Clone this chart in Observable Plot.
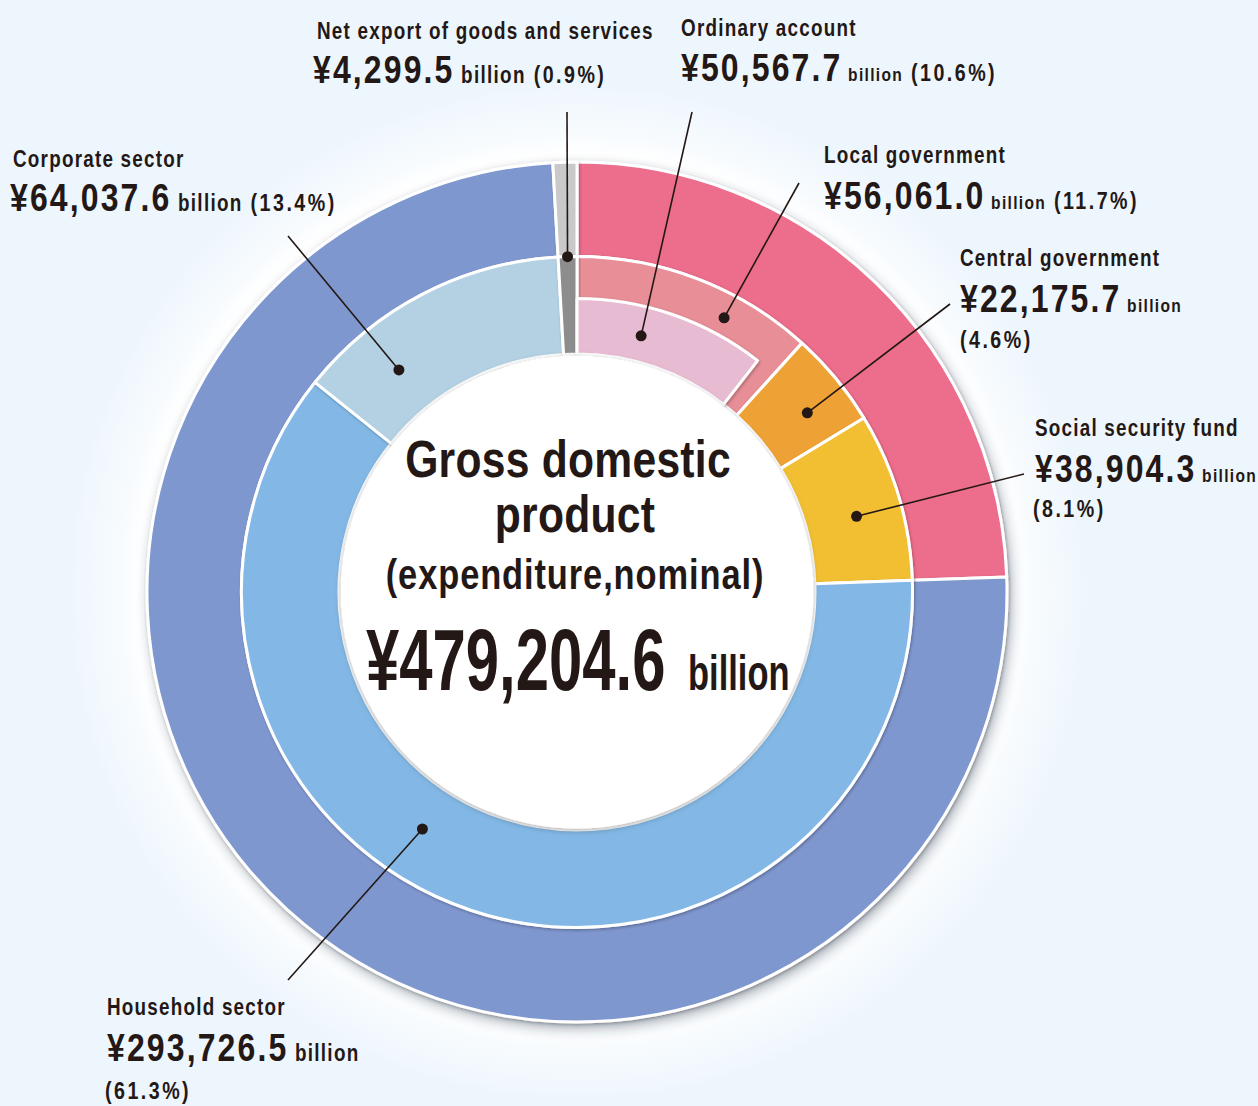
<!DOCTYPE html>
<html><head><meta charset="utf-8">
<script src="https://cdn.jsdelivr.net/npm/d3@7"></script>
<script src="https://cdn.jsdelivr.net/npm/@observablehq/plot@0.6"></script>
<style>
html,body{margin:0;padding:0;width:1258px;height:1106px;overflow:hidden;}
body{background: radial-gradient(circle at 577px 592px, #ffffff 0px, #ffffff 436px, #f7fbfe 460px, #eef6fd 510px, #edf5fd 900px);}
#chart svg{display:block}
text{white-space:pre}
</style></head><body><div id="chart"></div><script>
// ---------------- data ----------------
const gdpTotal = 479204.6;
const centerTitle = ["Gross domestic", "product", "(expenditure,nominal)"];
const sectors = ["Local government", "Central government", "Social security fund", "Household sector", "Corporate sector", "Net export of goods and services"];
const sectorValues = [56061.0, 22175.7, 38904.3, 293726.5, 64037.6, 4299.5];
const sectorGroups = ["General government", "General government", "General government", "Private sector", "Private sector", "Net export"];
const subItem = "Ordinary account";
const subParent = "Local government";
const subValue = 50567.7;

// ---------------- styles / layout ----------------
const INK = "#231815";
const CX = 577, CY = 592;
const RADII = [238, 293.5, 335.5, 430]; // pixel radius of ring levels 0..3
const radius = d3.scaleLinear([0, 1, 2, 3], RADII);
const palette = {
  "General government": "#ec6d8c",
  "Private sector": "#7f97cf",
  "Net export": "#c9c9c9",
  "Local government": "#e78e96",
  "Ordinary account": "#e7bbd2",
  "Central government": "#eea234",
  "Social security fund": "#f2bf32",
  "Household sector": "#83b8e6",
  "Corporate sector": "#b3d1e3",
  "Net export of goods and services": "#8d8d8d"
};
// dot anchors: fraction along segment + ring level; leader start in px
const anchors = [
  {key: "Net export of goods and services", t: 0.5, level: 2, from: [567, 112]},
  {key: "Ordinary account", t: 0.37, level: 0.47, from: [692, 112]},
  {key: "Local government", t: 0.67, level: 1.42, from: [799, 183]},
  {key: "Central government", t: 0.60, level: 0.97, from: [950, 304]},
  {key: "Social security fund", t: 0.55, level: 0.93, from: [1024, 474]},
  {key: "Household sector", t: 0.567, level: 0.81, from: [288, 980]},
  {key: "Corporate sector", t: 0.262, level: 0.84, from: [288, 236]}
];
const SX = 0.82; // horizontal condensing of label font
const runStyles = {
  name: {size: 23, ls: 1.5},
  value: {size: 39, ls: 2.6},
  billionL: {size: 23, ls: 1.6},
  billionS: {size: 19, ls: 1.6},
  pct: {size: 24, ls: 3}
};
const labelLayout = [
  {key: "Net export of goods and services", x: 317, rows: [{y: 39, runs: ["name"]}, {y: 83, x: 313, runs: ["value", "billionL", "pct"]}]},
  {key: "Ordinary account", x: 681, rows: [{y: 36, runs: ["name"]}, {y: 81, runs: ["value", "billionS", "pct"]}]},
  {key: "Corporate sector", x: 13, rows: [{y: 167, runs: ["name"]}, {y: 211, x: 10, runs: ["value", "billionL", "pct"]}]},
  {key: "Local government", x: 824, rows: [{y: 163, runs: ["name"]}, {y: 209, runs: ["value", "billionS", "pct"]}]},
  {key: "Central government", x: 960, rows: [{y: 266, runs: ["name"]}, {y: 312, runs: ["value", "billionS"]}, {y: 348, runs: ["pct"]}]},
  {key: "Social security fund", x: 1035, rows: [{y: 436, runs: ["name"]}, {y: 482, runs: ["value", "billionS"]}, {y: 517, x: 1033, runs: ["pct"]}]},
  {key: "Household sector", x: 107, rows: [{y: 1015, runs: ["name"]}, {y: 1061, runs: ["value", "billionL"]}, {y: 1099, x: 105, runs: ["pct"]}]}
];
const FONT = "'Liberation Sans', Arial, sans-serif";

// ---------------- derived table ----------------
const start = {}, end = {}, valueOf = {};
let acc = 0;
sectors.forEach((s, i) => { start[s] = acc; acc += sectorValues[i]; end[s] = acc; valueOf[s] = sectorValues[i]; });
start[subItem] = start[subParent]; end[subItem] = start[subParent] + subValue; valueOf[subItem] = subValue;
const segments = [];
for (const g of [...new Set(sectorGroups)]) {
  const m = sectors.filter((s, i) => sectorGroups[i] === g);
  segments.push({key: g, start: start[m[0]], end: end[m[m.length - 1]], inner: 2, outer: 3});
}
sectors.forEach(s => segments.push({key: s, start: start[s], end: end[s], inner: 0, outer: 2}));
segments.push({key: subItem, start: start[subItem], end: end[subItem], inner: 0, outer: 1});

const fmtVal = v => "¥" + d3.format(",.1f")(v);
const fmtPct = v => `(${d3.format(".1f")(v / gdpTotal * 100)}%)`;

// ---------------- renderers ----------------
function arcRender(index, scales, values) {
  const g = d3.create("svg:g");
  const defs = g.append("defs");
  defs.append("filter").attr("id", "donutShadow").attr("x", "-20%").attr("y", "-20%").attr("width", "140%").attr("height", "140%")
    .append("feDropShadow").attr("dx", 3).attr("dy", 5).attr("stdDeviation", 6).attr("flood-color", "#2a3550").attr("flood-opacity", 0.4);
  defs.append("filter").attr("id", "segShadow").attr("x", "-20%").attr("y", "-20%").attr("width", "140%").attr("height", "140%")
    .append("feDropShadow").attr("dx", 1).attr("dy", 1.5).attr("stdDeviation", 1.8).attr("flood-color", "#000").attr("flood-opacity", 0.28);
  defs.append("filter").attr("id", "diskShadow").attr("x", "-20%").attr("y", "-20%").attr("width", "140%").attr("height", "140%")
    .append("feDropShadow").attr("dx", 0).attr("dy", 2).attr("stdDeviation", 3).attr("flood-color", "#000").attr("flood-opacity", 0.3);
  const donut = g.append("g").attr("transform", `translate(${CX},${CY})`).attr("filter", "url(#donutShadow)");
  const arc = d3.arc();
  for (const i of index) {
    donut.append("path")
      .attr("d", arc({innerRadius: radius(values.y1[i]), outerRadius: radius(values.y2[i]), startAngle: values.x1[i], endAngle: values.x2[i]}))
      .attr("fill", values.fill[i])
      .attr("stroke", "#fff").attr("stroke-width", 3).attr("stroke-linejoin", "round")
      .attr("filter", "url(#segShadow)");
  }
  g.append("circle").attr("cx", CX).attr("cy", CY).attr("r", RADII[0] - 1.5).attr("fill", "#fff").attr("filter", "url(#diskShadow)");
  return g.node();
}

function leaderRender(index, scales, values) {
  const g = d3.create("svg:g");
  for (const i of index) {
    const a = values.x[i], r = radius(values.y[i]);
    const px = CX + r * Math.sin(a), py = CY - r * Math.cos(a);
    const [lx, ly] = anchors[i].from;
    g.append("line").attr("x1", lx).attr("y1", ly).attr("x2", px).attr("y2", py)
      .attr("stroke", INK).attr("stroke-width", 1.6);
    g.append("circle").attr("cx", px).attr("cy", py).attr("r", 5.5).attr("fill", INK);
  }
  return g.node();
}

function labelsMark() {
  const g = d3.create("svg:g").attr("fill", INK).attr("font-family", FONT).attr("font-weight", "bold").attr("text-anchor", "start");
  for (const lab of labelLayout) {
    for (const row of lab.rows) {
      const t = g.append("text").attr("transform", `translate(${row.x ?? lab.x},${row.y}) scale(${SX},1)`);
      row.runs.forEach((run, j) => {
        const st = runStyles[run];
        let txt;
        if (run === "name") txt = lab.key;
        else if (run === "value") txt = fmtVal(valueOf[lab.key]);
        else if (run.startsWith("billion")) txt = " billion";
        else txt = (j > 0 ? " " : "") + fmtPct(valueOf[lab.key]);
        t.append("tspan").attr("font-size", st.size).attr("letter-spacing", st.ls).text(txt);
      });
    }
  }
  // center
  const titleRows = [{x: 568, y: 477, size: 52, ls: 0.3}, {x: 575, y: 532, size: 52, ls: 0.3}, {x: 575, y: 589, size: 42, ls: 1.1}];
  centerTitle.forEach((s, i) => {
    const r = titleRows[i];
    g.append("text").attr("transform", `translate(${r.x},${r.y}) scale(${SX},1)`).attr("text-anchor", "middle")
      .attr("font-size", r.size).attr("letter-spacing", r.ls).text(s);
  });
  g.append("text").attr("transform", "translate(366,690) scale(0.68,1)").attr("font-size", 88).text(fmtVal(gdpTotal));
  g.append("text").attr("transform", "translate(688,690) scale(0.69,1)").attr("font-size", 50).text("billion");
  return g.node();
}

// ---------------- plot ----------------
const chart = Plot.plot({
  width: 1258, height: 1106, margin: 0,
  style: {background: "transparent", overflow: "visible"},
  x: {domain: [0, gdpTotal], range: [0, 2 * Math.PI], axis: null},
  y: {domain: [0, 3], range: [0, 3], axis: null},
  marks: [
    Plot.rect(segments, {x1: "start", x2: "end", y1: "inner", y2: "outer", fill: d => palette[d.key], render: arcRender}),
    Plot.dot(anchors, {x: d => start[d.key] + d.t * valueOf[d.key], y: "level", render: leaderRender}),
    labelsMark
  ]
});
document.getElementById("chart").append(chart);
</script></body></html>
